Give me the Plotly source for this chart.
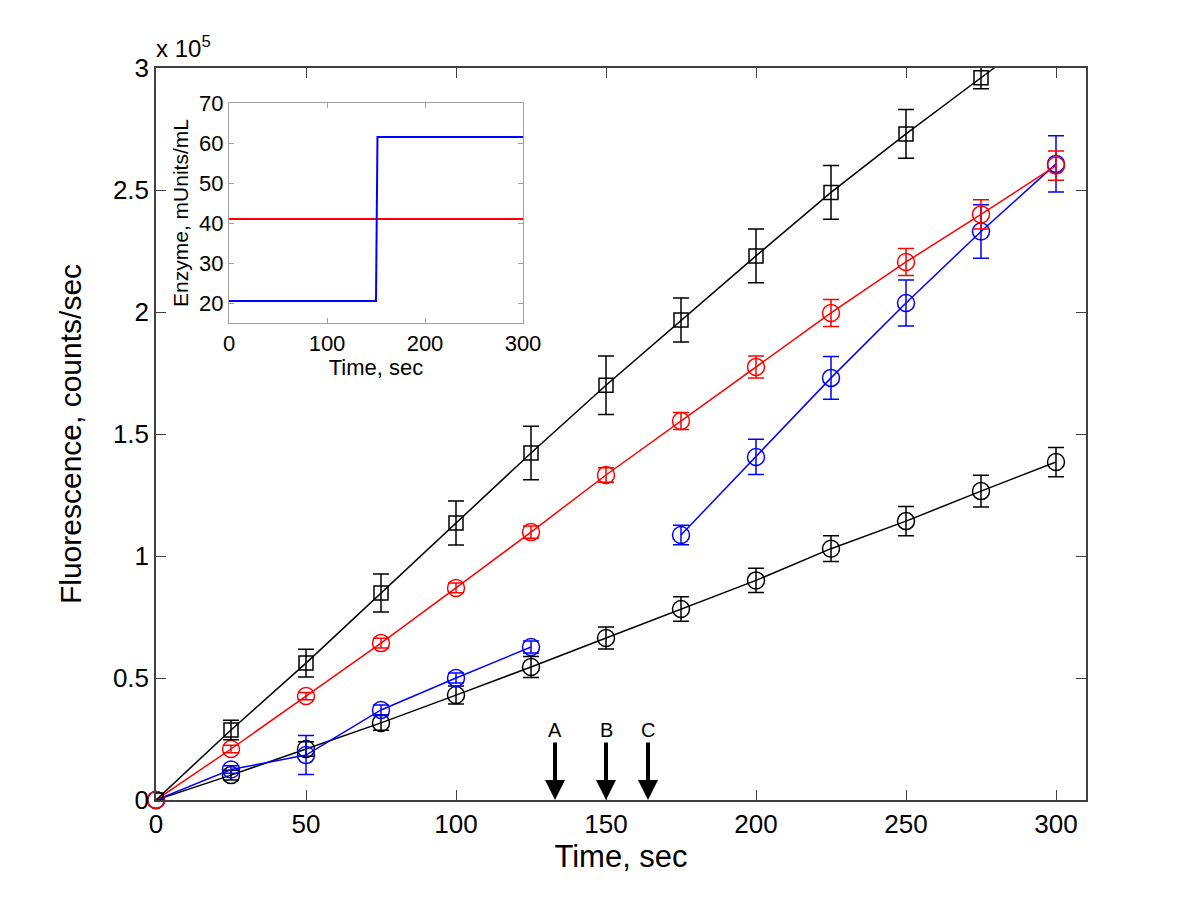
import plotly.graph_objects as go

# ---------------- data (main plot, fluorescence in units of 1e5 counts/sec) ----------------
time = [0, 25, 50, 75, 100, 125, 150, 175, 200, 225, 250, 275, 300]

sq_black_y = [0, 0.287, 0.561, 0.848, 1.135, 1.422, 1.70, 1.967, 2.23, 2.49, 2.73, 2.96, 3.19]
sq_black_err = [0, 0.04, 0.057, 0.078, 0.09, 0.11, 0.12, 0.09, 0.11, 0.11, 0.10, 0.045, 0.05]

red_y = [0, 0.209, 0.426, 0.643, 0.869, 1.098, 1.332, 1.553, 1.775, 1.996, 2.205, 2.40, 2.60]
red_err = [0, 0.015, 0.015, 0.02, 0.02, 0.025, 0.03, 0.035, 0.045, 0.055, 0.055, 0.06, 0.06]

blue_y = [0, 0.125, 0.184, 0.369, 0.50, 0.627, None, 1.086, 1.406, 1.73, 2.037, 2.33, 2.607]
blue_err = [0, 0.015, 0.08, 0.02, 0.02, 0.025, None, 0.04, 0.072, 0.088, 0.094, 0.11, 0.115]

circ_black_y = [0, 0.102, 0.209, 0.316, 0.43, 0.545, 0.664, 0.783, 0.90, 1.03, 1.143, 1.266, 1.385]
circ_black_err = [0, 0.02, 0.03, 0.03, 0.037, 0.043, 0.045, 0.05, 0.05, 0.053, 0.06, 0.065, 0.06]

# arrow markers on the time axis
arrow_labels = ["A", "B", "C"]
arrow_times = [133, 150, 164]

# ---------------- data (inset: enzyme concentration) ----------------
inset_red_t = [0, 300]
inset_red_e = [41, 41]
inset_blue_t = [0, 150, 151.5, 300]
inset_blue_e = [20.5, 20.5, 61.5, 61.5]

BLACK = "#000000"
RED = "#ff0000"
BLUE = "#0000ff"
FONT = "Liberation Sans, Arial, sans-serif"

fig = go.Figure()


def add_series(y, err, color, symbol, size, clip=False):
    fig.add_trace(go.Scatter(
        x=time, y=y, mode="lines+markers",
        line=dict(color=color, width=1.5),
        marker=dict(symbol=symbol, size=size, color=color,
                    line=dict(color=color, width=1.5)),
        error_y=dict(type="data", array=err, visible=True, color=color,
                     thickness=1.5, width=8),
        connectgaps=False, cliponaxis=clip, showlegend=False,
        xaxis="x", yaxis="y",
    ))


add_series(circ_black_y, circ_black_err, BLACK, "circle-open", 17)
add_series(blue_y, blue_err, BLUE, "circle-open", 17)
add_series(red_y, red_err, RED, "circle-open", 17)
add_series(sq_black_y, sq_black_err, BLACK, "square-open", 14, clip=True)

# inset traces
fig.add_trace(go.Scatter(x=inset_red_t, y=inset_red_e, mode="lines",
                         line=dict(color=RED, width=2), showlegend=False,
                         xaxis="x2", yaxis="y2"))
fig.add_trace(go.Scatter(x=inset_blue_t, y=inset_blue_e, mode="lines",
                         line=dict(color=BLUE, width=2), showlegend=False,
                         xaxis="x2", yaxis="y2"))

# page body offset of ~8 px is compensated in the margins
OFF = 8
ML, MR, MT, MB = 156 - OFF, 114 + OFF, 68 - OFF, 100 + OFF
W, H = 1200, 900
pw, ph = W - ML - MR, H - MT - MB


def px_x(p):
    return (p - OFF - ML) / pw


def px_y(p):
    return (H - MB - (p - OFF)) / ph


annotations = []
for lab, t in zip(arrow_labels, arrow_times):
    annotations.append(dict(
        x=t, y=0, xref="x", yref="y", text=lab, showarrow=True,
        arrowhead=2, arrowwidth=4, arrowsize=1, arrowcolor="black",
        ax=0, ay=-70, font=dict(family=FONT, size=20, color="black"),
    ))
annotations.append(dict(
    x=0, y=1, xref="paper", yref="paper", xanchor="left", yanchor="bottom",
    text="x 10<sup>5</sup>", showarrow=False, xshift=-2, yshift=4,
    font=dict(family=FONT, size=24, color="black"),
))

fig.update_layout(
    width=W, height=H,
    margin=dict(l=ML, r=MR, t=MT, b=MB, autoexpand=False),
    paper_bgcolor="white", plot_bgcolor="white",
    font=dict(family=FONT, color="black"),
    showlegend=False,
    xaxis=dict(
        domain=[0, 1], range=[0, 310], tickvals=[0, 50, 100, 150, 200, 250, 300],
        ticks="inside", ticklen=10, tickwidth=1.2, tickcolor="#404040",
        showline=True, linecolor="#404040", linewidth=1.5, mirror="ticks",
        showgrid=False, zeroline=False,
        tickfont=dict(size=26), title=dict(text="Time, sec", font=dict(size=31), standoff=6),
    ),
    yaxis=dict(
        domain=[0, 1], range=[0, 3], tickvals=[0, 0.5, 1, 1.5, 2, 2.5, 3],
        ticktext=["0", "0.5", "1", "1.5", "2", "2.5", "3"],
        ticks="inside", ticklen=10, tickwidth=1.2, tickcolor="#404040",
        showline=True, linecolor="#404040", linewidth=1.5, mirror="ticks",
        showgrid=False, zeroline=False,
        tickfont=dict(size=26),
        title=dict(text="Fluorescence, counts/sec", font=dict(size=30), standoff=22),
    ),
    xaxis2=dict(
        domain=[px_x(229), px_x(523)], anchor="y2", range=[0, 300],
        tickvals=[0, 100, 200, 300],
        ticks="inside", ticklen=5, tickcolor="#a0a0a0",
        showline=True, linecolor="#a0a0a0", linewidth=1.2, mirror="ticks",
        showgrid=False, zeroline=False,
        tickfont=dict(size=22), title=dict(text="Time, sec", font=dict(size=22), standoff=2),
    ),
    yaxis2=dict(
        domain=[px_y(323), px_y(103)], anchor="x2", range=[15, 70],
        tickvals=[20, 30, 40, 50, 60, 70],
        ticks="inside", ticklen=5, tickcolor="#a0a0a0",
        showline=True, linecolor="#a0a0a0", linewidth=1.2, mirror="ticks",
        showgrid=False, zeroline=False,
        tickfont=dict(size=22),
        title=dict(text="Enzyme, mUnits/mL", font=dict(size=21), standoff=4),
    ),
    annotations=annotations,
)

fig.write_html("out.html")
